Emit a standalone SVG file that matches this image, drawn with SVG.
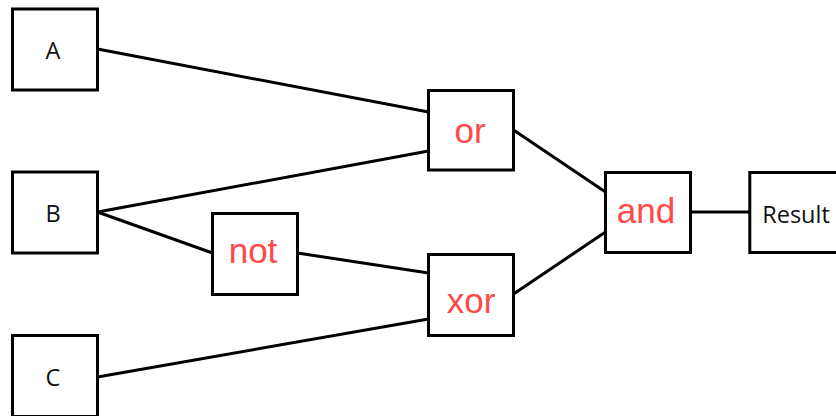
<svg xmlns="http://www.w3.org/2000/svg" width="836" height="416" viewBox="0 0 836 416">
<style>
.box{fill:#fff;stroke:#000;stroke-width:3}
.lbl{font-family:"Open Sans","DejaVu Sans",sans-serif;font-size:23.5px;fill:#111;text-anchor:middle}
.gate{font-family:"Liberation Sans",Arial,sans-serif;font-size:35px;fill:#ff4848;text-anchor:middle}
.edge{stroke:#000;stroke-width:3;fill:none}
</style>
<rect width="836" height="416" fill="#fff"/>
<g id="connectors">
<line class="edge" x1="97.5" y1="49" x2="428.5" y2="112"/>
<line class="edge" x1="97.5" y1="212" x2="428.5" y2="151"/>
<line class="edge" x1="97.5" y1="212" x2="212.5" y2="253"/>
<line class="edge" x1="297.5" y1="253" x2="428.5" y2="273"/>
<line class="edge" x1="97.5" y1="377" x2="428.5" y2="319"/>
<line class="edge" x1="513.5" y1="130" x2="605.5" y2="192"/>
<line class="edge" x1="513.5" y1="294" x2="605.5" y2="232"/>
<line class="edge" x1="690.5" y1="212" x2="749.5" y2="212"/>
</g>
<g id="A"><rect class="box" x="12.5" y="9" width="85" height="81"/><text class="lbl" x="53" y="58.5">A</text></g>
<g id="B"><rect class="box" x="12.5" y="172" width="85" height="81"/><text class="lbl" x="53" y="221.5">B</text></g>
<g id="C"><rect class="box" x="12.5" y="335.5" width="85" height="81"/><text class="lbl" x="53" y="386">C</text></g>
<g id="or"><rect class="box" x="428.5" y="90.5" width="85" height="79.5"/><text class="gate" x="470" y="143">or</text></g>
<g id="not"><rect class="box" x="212.5" y="213.5" width="85" height="81"/><text class="gate" x="253" y="263">not</text></g>
<g id="xor"><rect class="box" x="428.5" y="254.5" width="85" height="81"/><text class="gate" x="471" y="312.5">xor</text></g>
<g id="and"><rect class="box" x="605.5" y="172.5" width="85" height="80"/><text class="gate" x="646" y="223">and</text></g>
<g id="Result"><rect class="box" x="749.8" y="172.5" width="95" height="80"/><text class="lbl" x="796" y="222.5">Result</text></g>
</svg>
